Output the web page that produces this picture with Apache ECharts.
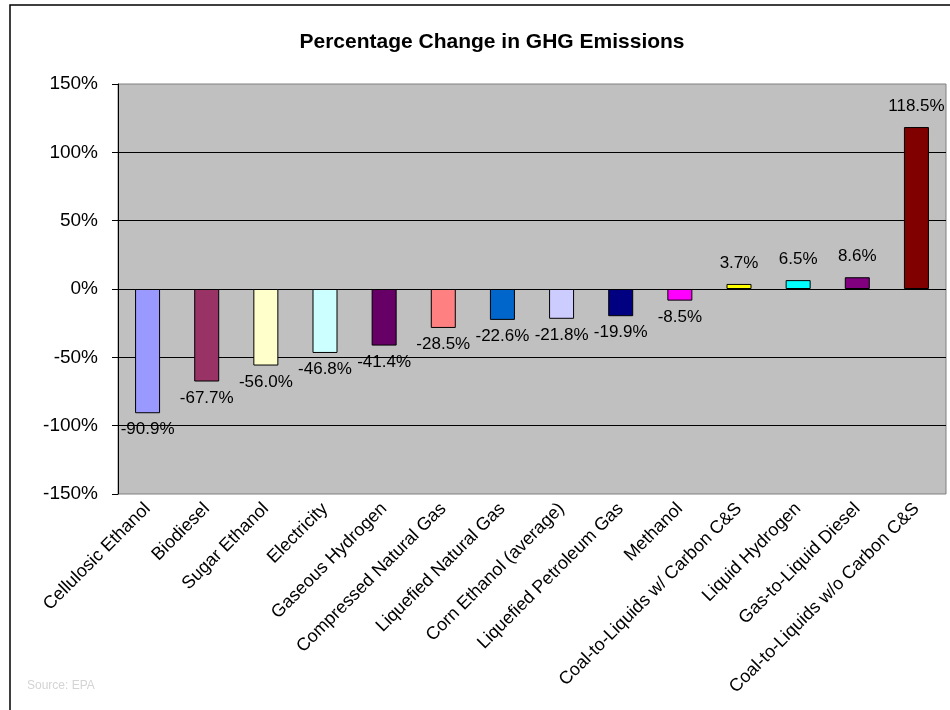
<!DOCTYPE html>
<html>
<head>
<meta charset="utf-8">
<script src="https://cdn.jsdelivr.net/npm/echarts@6/dist/echarts.min.js"></script>
<style>html,body{margin:0;padding:0;background:#fff}#c{width:950px;height:710px}</style>
</head>
<body>
<div id="c"></div>
<script>
var categories = ["Cellulosic Ethanol","Biodiesel","Sugar Ethanol","Electricity","Gaseous Hydrogen","Compressed Natural Gas","Liquefied Natural Gas","Corn Ethanol (average)","Liquefied Petroleum Gas","Methanol","Coal-to-Liquids w/ Carbon C&S","Liquid Hydrogen","Gas-to-Liquid Diesel","Coal-to-Liquids w/o Carbon C&S"];
var values = [-90.9,-67.7,-56.0,-46.8,-41.4,-28.5,-22.6,-21.8,-19.9,-8.5,3.7,6.5,8.6,118.5];
var colors = ["#9999FF","#993366","#FFFFCC","#CCFFFF","#660066","#FF8080","#0066CC","#CCCCFF","#000080","#FF00FF","#FFFF00","#00FFFF","#800080","#800000"];
var yTicks = {min:-150, max:150, interval:50};

var font = "'Liberation Sans', Arial, sans-serif";
var chart = echarts.init(document.getElementById('c'));
chart.setOption({
  animation: false,
  backgroundColor: '#ffffff',
  title: {
    text: 'Percentage Change in GHG Emissions',
    left: 487, top: 27, textAlign: 'center',
    textStyle: {fontFamily: font, fontSize: 21, fontWeight: 'bold', color: '#000'}
  },
  graphic: [
    {type:'rect', shape:{x:10, y:5, width:960, height:720}, style:{fill:'none', stroke:'#000', lineWidth:1.5}, silent:true, z:-1},
    {type:'text', left:27, top:680, style:{text:'Source: EPA', fontFamily:font, fontSize:12, fill:'#d4d4d4'}}
  ],
  grid: {left:118, right:4, top:84, bottom:216, show:true, backgroundColor:'#C0C0C0', borderColor:'#808080', borderWidth:1},
  xAxis: {
    type:'category', data:categories,
    axisLine:{show:false, onZero:false},
    axisTick:{show:false},
    axisLabel:{interval:0, rotate:45, margin:12, fontFamily:font, fontSize:18, color:'#000'}
  },
  yAxis: {
    type:'value', min:yTicks.min, max:yTicks.max, interval:yTicks.interval,
    axisLine:{show:true, lineStyle:{color:'#000', width:1}},
    axisTick:{show:true, length:6, lineStyle:{color:'#000'}},
    axisLabel:{margin:20, fontFamily:font, fontSize:19, color:'#000', formatter:function(v){return v+'%';}},
    splitLine:{show:true, showMinLine:false, showMaxLine:false, lineStyle:{color:'#000', width:1}}
  },
  series: [{
    type:'bar', barWidth:25,
    data: values.map(function(v,i){
      return {value:v, itemStyle:{color:colors[i], borderColor:'#000', borderWidth:1},
        label:{show:true, position: v<0?'bottom':'top', distance: v<0?8:12}};
    }),
    label:{fontFamily:font, fontSize:17, color:'#000', formatter:function(p){return p.value.toFixed(1)+'%';}}
  }]
});
</script>
</body>
</html>
